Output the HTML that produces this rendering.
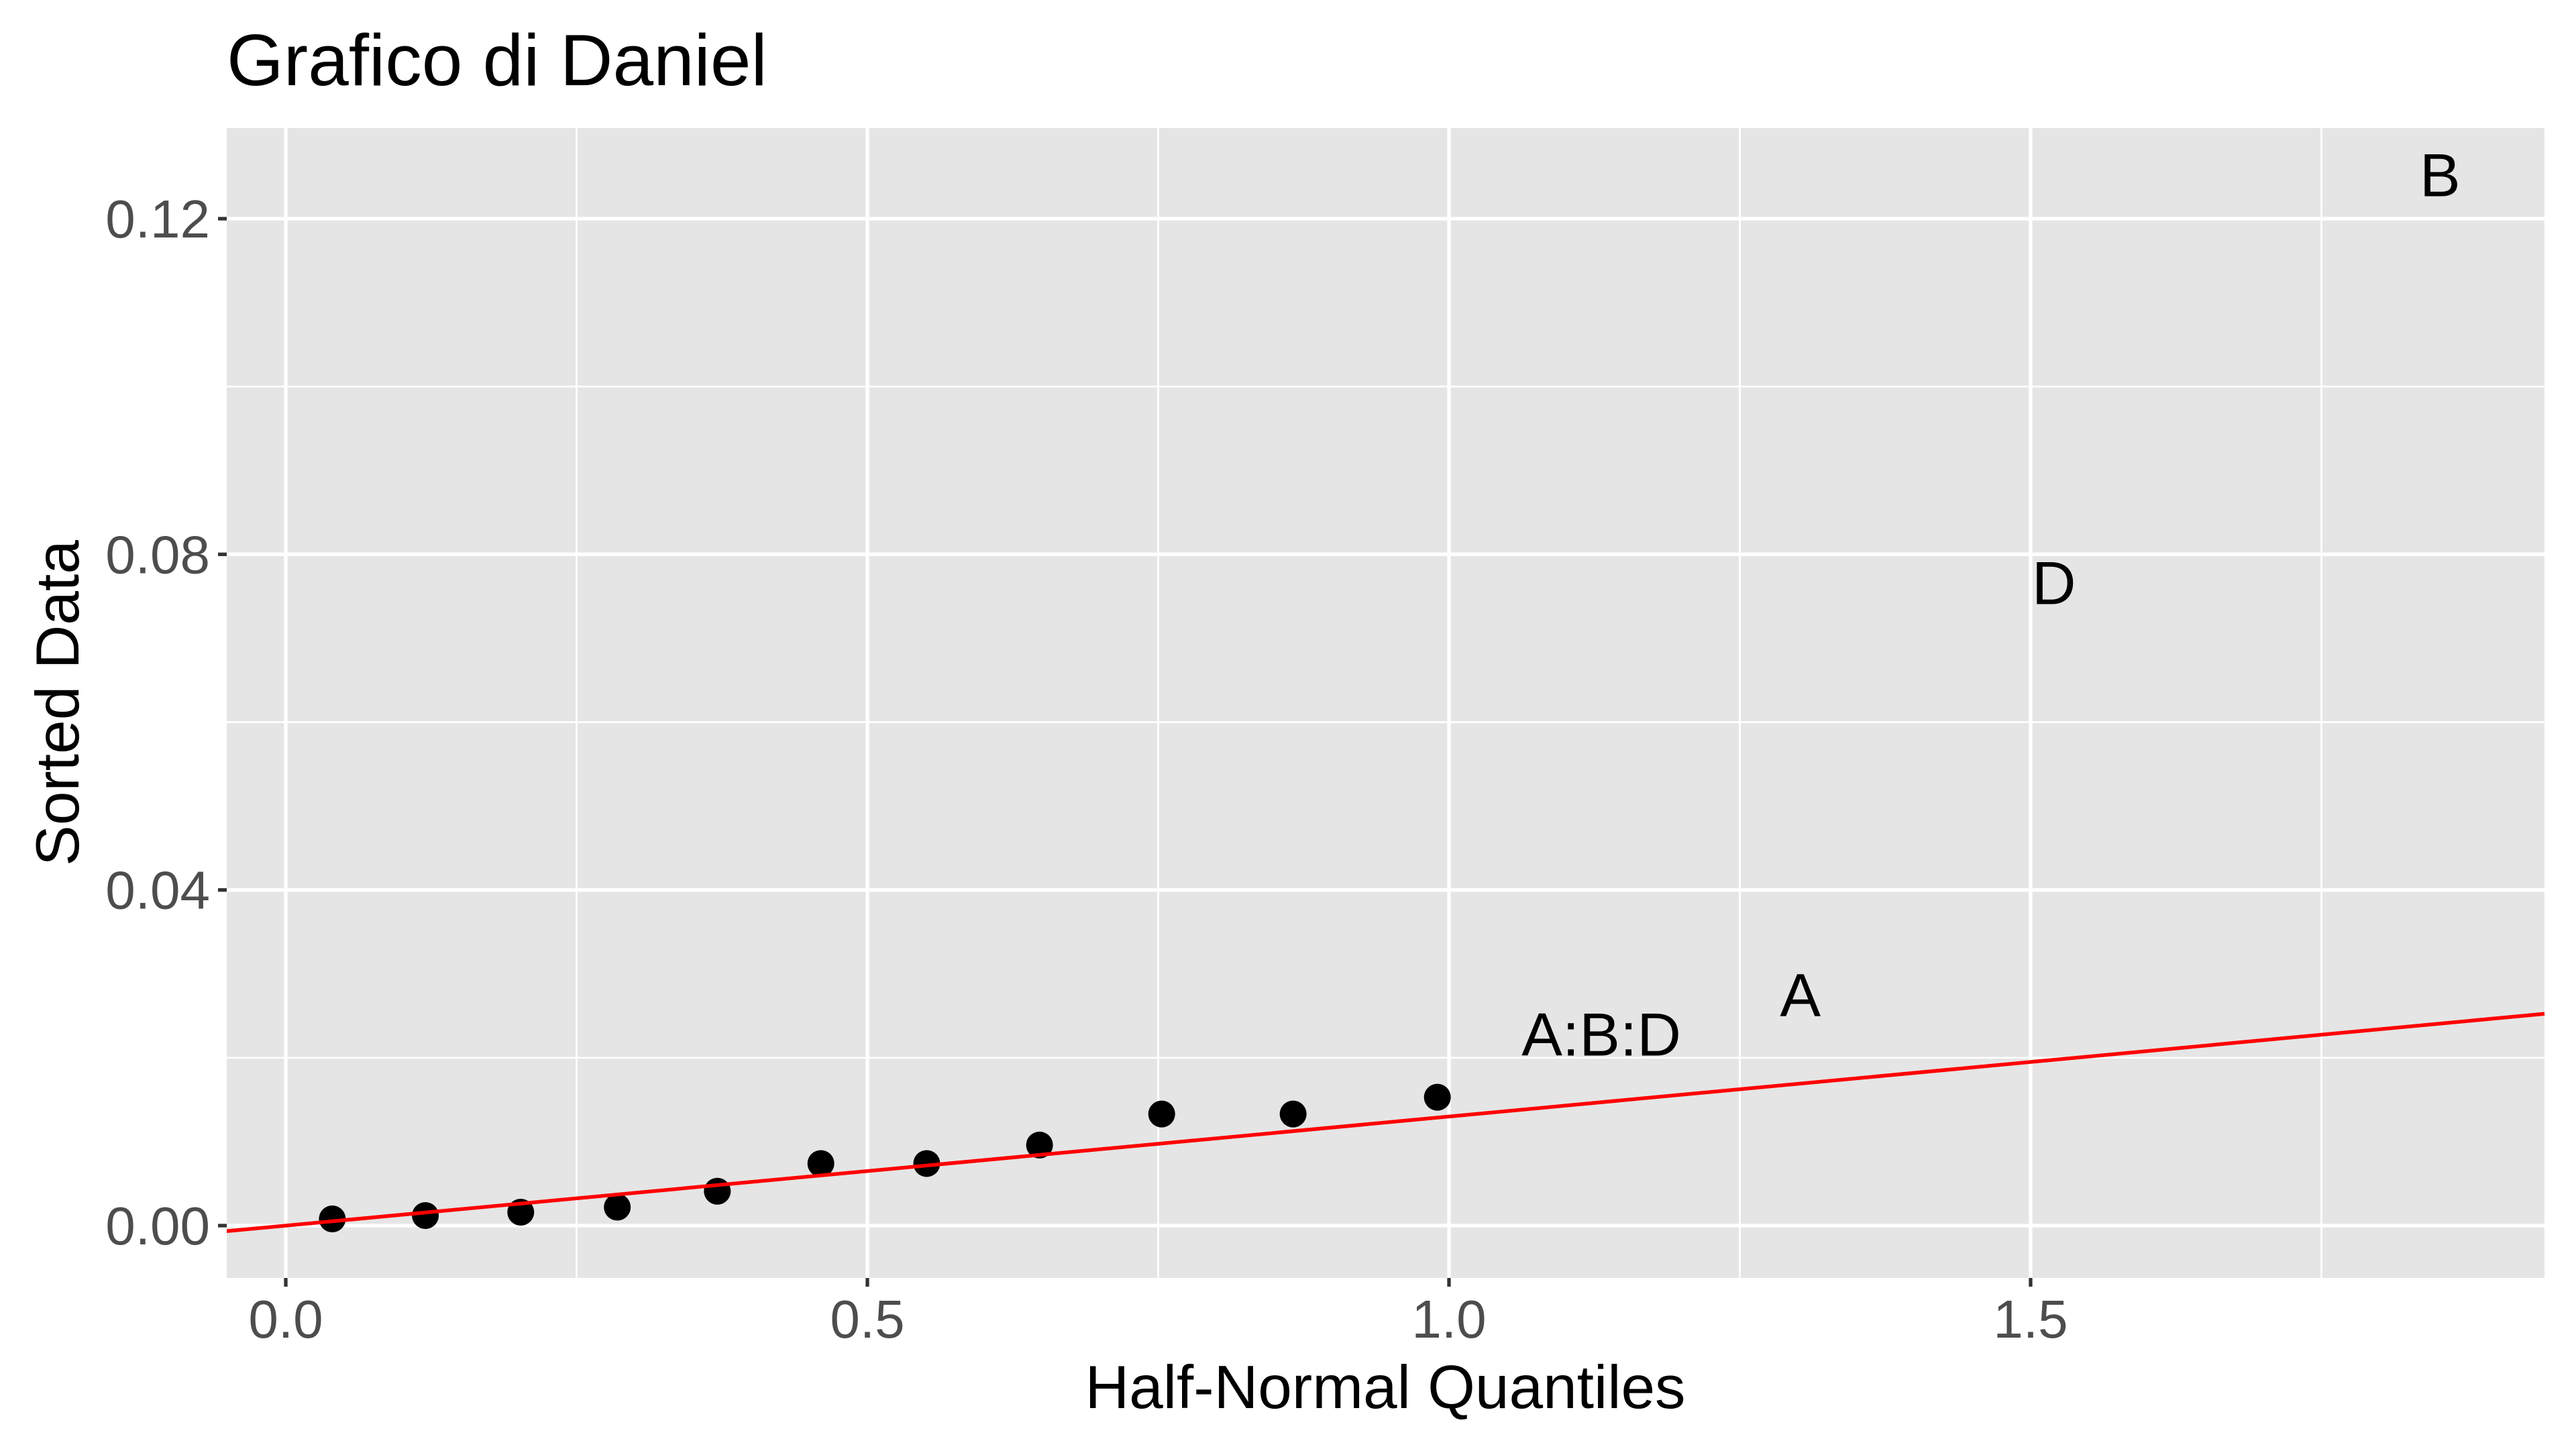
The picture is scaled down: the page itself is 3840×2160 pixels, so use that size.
<!DOCTYPE html>
<html><head><meta charset="utf-8"><style>
html,body{margin:0;padding:0;background:#fff;}
svg{display:block;font-family:"Liberation Sans",Arial,sans-serif;}
</style></head><body>
<svg id="chart" width="3840" height="2160" viewBox="0 0 3840 2160" xmlns="http://www.w3.org/2000/svg">
<text x="338" y="127" font-size="109" fill="#000">Grafico di Daniel</text>
<rect x="338" y="191" width="3455" height="1714" fill="#e5e5e5"/>
<g id="grid"></g><g id="marks"></g><g id="axes"></g>
<text x="2065" y="2099" font-size="91" text-anchor="middle" fill="#000">Half-Normal Quantiles</text>
<text transform="translate(117,1048) rotate(-90)" font-size="91" text-anchor="middle" fill="#000">Sorted Data</text>
</svg>
<script>
const pointX=[0.040,0.120,0.202,0.285,0.371,0.460,0.551,0.648,0.753,0.866,0.990];
const pointY=[0.0008,0.0012,0.0016,0.0022,0.0041,0.0074,0.0074,0.0096,0.0133,0.0133,0.0153];
const labelText=["A:B:D","A","D","B"];
const labelX=[1.131,1.302,1.520,1.852];
const labelY=[0.0229,0.0276,0.0767,0.1253];
const xTicks=[0,0.5,1,1.5];
const xTickLabels=["0.0","0.5","1.0","1.5"];
const xMinor=[0.25,0.75,1.25,1.75];
const yTicks=[0,0.04,0.08,0.12];
const yTickLabels=["0.00","0.04","0.08","0.12"];
const yMinor=[0.02,0.06,0.10];
const lineIntercept=[0.0000];
const lineSlope=[0.0130];

const L=338,R=3793,T=191,B=1905;
const xs=v=>426+v*1734;
const ys=v=>1827-v*(1501/0.12);
const xInv=p=>(p-426)/1734;
const NS="http://www.w3.org/2000/svg";
function mk(tag,attrs,parent){const e=document.createElementNS(NS,tag);for(const k in attrs)e.setAttribute(k,attrs[k]);parent.appendChild(e);return e;}
const grid=document.getElementById('grid'),marks=document.getElementById('marks'),axes=document.getElementById('axes');
xMinor.forEach(v=>{const e=mk('line',{x1:xs(v),x2:xs(v),y1:T,y2:B,stroke:'#fff','stroke-width':2.7},grid);

});
yMinor.forEach(v=>{const e=mk('line',{x1:L,x2:R,y1:ys(v),y2:ys(v),stroke:'#fff','stroke-width':2.7},grid);

});
xTicks.forEach((v,i)=>{const e=mk('line',{x1:xs(v),x2:xs(v),y1:T,y2:B,stroke:'#fff','stroke-width':5.3},grid);


const t=mk('line',{x1:xs(v),x2:xs(v),y1:B,y2:B+13,stroke:'#333','stroke-width':5.3},axes);


const l=mk('text',{x:xs(v),y:1994,'font-size':80,'text-anchor':'middle',fill:'#4d4d4d'},axes);l.textContent=xTickLabels[i];

});
yTicks.forEach((v,i)=>{const e=mk('line',{x1:L,x2:R,y1:ys(v),y2:ys(v),stroke:'#fff','stroke-width':5.3},grid);


const t=mk('line',{x1:L-13,x2:L,y1:ys(v),y2:ys(v),stroke:'#333','stroke-width':5.3},axes);


const l=mk('text',{x:L-25,y:ys(v)+28,'font-size':80,'text-anchor':'end',fill:'#4d4d4d'},axes);l.textContent=yTickLabels[i];

});
pointX.forEach((x,i)=>{const c=mk('circle',{cx:xs(x),cy:ys(pointY[i]),r:20,fill:'#000'},marks);

});
const x0=xInv(L),x1=xInv(R);
const ln=mk('line',{x1:L,y1:ys(lineIntercept[0]+lineSlope[0]*x0),x2:R,y2:ys(lineIntercept[0]+lineSlope[0]*x1),stroke:'#ff0000','stroke-width':5.5},marks);


labelText.forEach((s,i)=>{const t=mk('text',{x:xs(labelX[i]),y:ys(labelY[i])+33,'font-size':91,'text-anchor':'middle',fill:'#000'},marks);t.textContent=s;

});
</script>
</body></html>
